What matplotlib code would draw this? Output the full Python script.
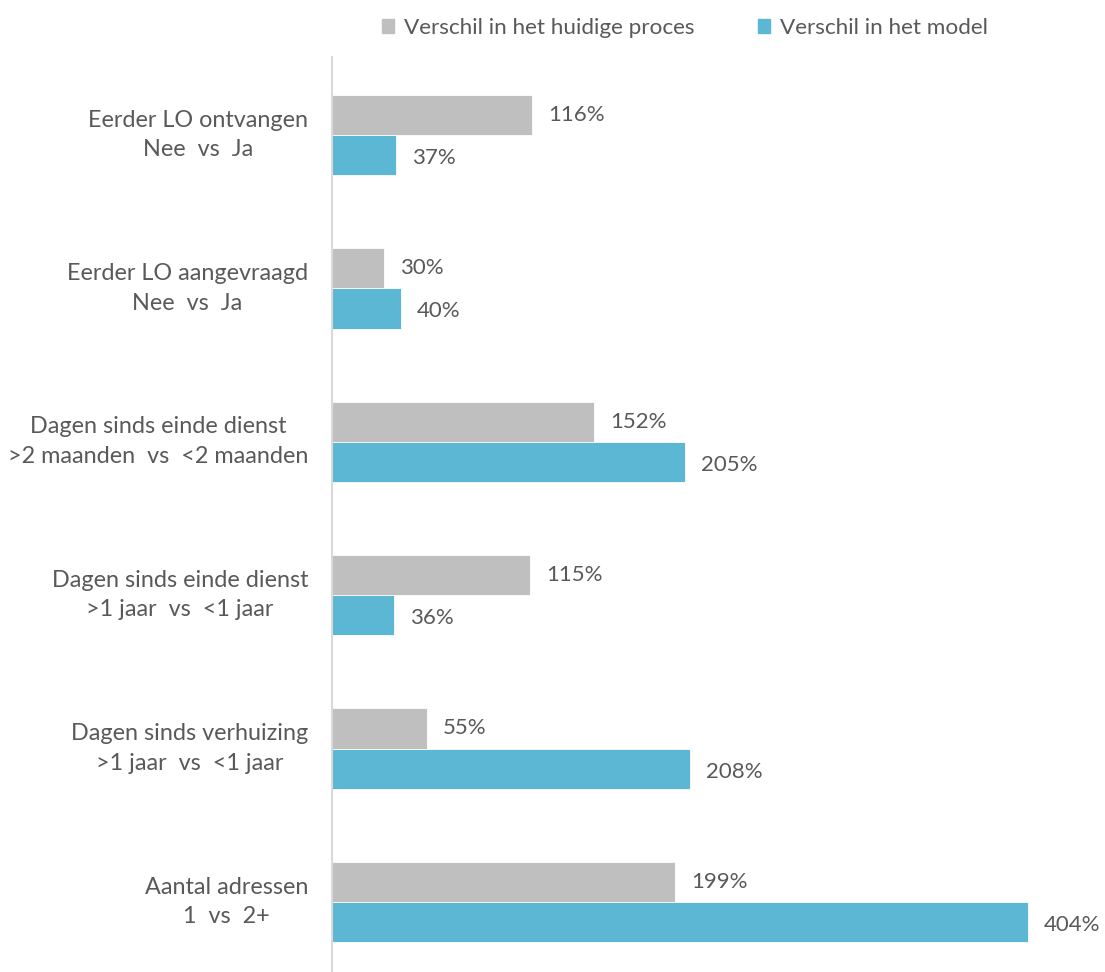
import matplotlib.pyplot as plt
import numpy as np
from matplotlib.patches import Patch

plt.rcParams['font.family'] = ['Lato', 'DejaVu Sans']

#===============================================================================
categories = [
    "Eerder LO ontvangen\nNee  vs  Ja",
    "Eerder LO aangevraagd\nNee  vs  Ja",
    "Dagen sinds einde dienst\n>2 maanden  vs  <2 maanden",
    "Dagen sinds einde dienst\n>1 jaar  vs  <1 jaar",
    "Dagen sinds verhuizing\n>1 jaar  vs  <1 jaar",
    "Aantal adressen\n1  vs  2+",
]
huidig = [116, 30, 152, 115, 55, 199]
model = [37, 40, 205, 36, 208, 404]
series_names = ["Verschil in het huidige proces", "Verschil in het model"]

GRAY = "#BFBFBF"
BLUE = "#5BB7D4"
TEXT = "#595959"

#===============================================================================
fig = plt.figure(figsize=(11.05, 9.72), dpi=100)
ax = fig.add_axes([332 / 1105, 0.0, 1 - 332 / 1105, 1 - 57 / 972])

y = np.arange(len(categories))
h = 0.262

ax.barh(y - h / 2, huidig, height=h, color=GRAY, edgecolor="white", linewidth=0.6)
ax.barh(y + h / 2, model, height=h, color=BLUE, edgecolor="white", linewidth=0.6)

for i in range(len(categories)):
    ax.annotate(f"{huidig[i]}%", (huidig[i], y[i] - h / 2), xytext=(16, 0),
                textcoords="offset pixels", va="center", ha="left",
                fontsize=16, color=TEXT)
    ax.annotate(f"{model[i]}%", (model[i], y[i] + h / 2 + 0.02), xytext=(16, 0),
                textcoords="offset pixels", va="center", ha="left",
                fontsize=16, color=TEXT)
    ax.annotate(categories[i], (0, y[i]), xytext=(-24, 0), xycoords="data",
                textcoords="offset pixels", va="center", ha="right",
                multialignment="center", fontsize=16.8, color=TEXT,
                linespacing=1.5, annotation_clip=False)

ax.set_xlim(0, (1105 - 332) / 1.7228)
ax.set_ylim(5.457, -0.508)

ax.set_xticks([])
ax.set_yticks([])
for side in ["top", "right", "bottom"]:
    ax.spines[side].set_visible(False)
ax.spines["left"].set_color("#D9D9D9")
ax.spines["left"].set_linewidth(1.5)

handles = [Patch(color=GRAY), Patch(color=BLUE)]
fig.legend(handles, series_names, loc="center", bbox_to_anchor=(685 / 1105, 1 - 28 / 972),
           ncol=2, frameon=False, fontsize=16.2, labelcolor=TEXT,
           handlelength=0.55, handleheight=0.55, handletextpad=0.45, columnspacing=2.8)

fig.savefig("out.png", dpi=100)
